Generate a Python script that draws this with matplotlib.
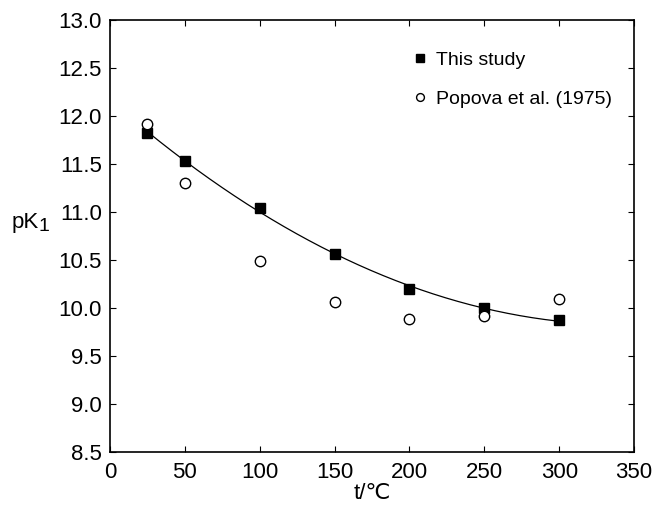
import numpy as np
import matplotlib.pyplot as plt

plt.rcParams['font.family'] = ['Liberation Sans', 'DejaVu Sans']

# data
t_study = [25, 50, 100, 150, 200, 250, 300]
pk_study = [11.82, 11.53, 11.04, 10.56, 10.20, 10.00, 9.87]
t_popova = [25, 50, 100, 150, 200, 250, 300]
pk_popova = [11.92, 11.30, 10.49, 10.06, 9.89, 9.92, 10.09]

# smooth fit through this study's points
coef = np.polyfit(t_study, pk_study, 2)
t_fit = np.linspace(min(t_study), max(t_study), 200)
pk_fit = np.polyval(coef, t_fit)

fig = plt.figure(figsize=(6.55, 5.11), dpi=100, facecolor='white')
ax = fig.add_axes([0.168, 0.1155, 0.800, 0.8455])

ax.plot(t_fit, pk_fit, color='black', linewidth=0.9)
ax.plot(t_study, pk_study, 's', color='black', markersize=7, label='This study')
ax.plot(t_popova, pk_popova, 'o', markerfacecolor='white', markeredgecolor='black',
        markeredgewidth=1.0, markersize=7.5, label='Popova et al. (1975)')

ax.set_xlim(0, 350)
ax.set_ylim(8.5, 13.0)
ax.set_xticks(np.arange(0, 351, 50))
ax.set_yticks(np.arange(8.5, 13.01, 0.5))
ax.set_yticklabels([f'{v:.1f}' for v in np.arange(8.5, 13.01, 0.5)])
ax.tick_params(direction='in', length=4, width=0.8, top=True, right=True,
               labelsize=16, pad=6, colors='black')
ax.tick_params(axis='x', pad=7)
for sp in ax.spines.values():
    sp.set_linewidth(1.2)

ax.set_xlabel('t/℃', fontsize=16, labelpad=0)

# y label "pK1" drawn horizontally with a large, slightly lowered subscript
fig.text(12 / 655, 1 - 228 / 511, 'pK', fontsize=16, ha='left', va='baseline')
fig.text(39 / 655, 1 - 231 / 511, '1', fontsize=14, ha='left', va='baseline')

leg = ax.legend(loc='upper left', bbox_to_anchor=(0.54, 0.968), frameon=False,
                fontsize=14, handletextpad=0.3, handlelength=1.0,
                labelspacing=1.1, markerscale=0.75)

plt.savefig('out.png', dpi=100, facecolor='white')
plt.close()
